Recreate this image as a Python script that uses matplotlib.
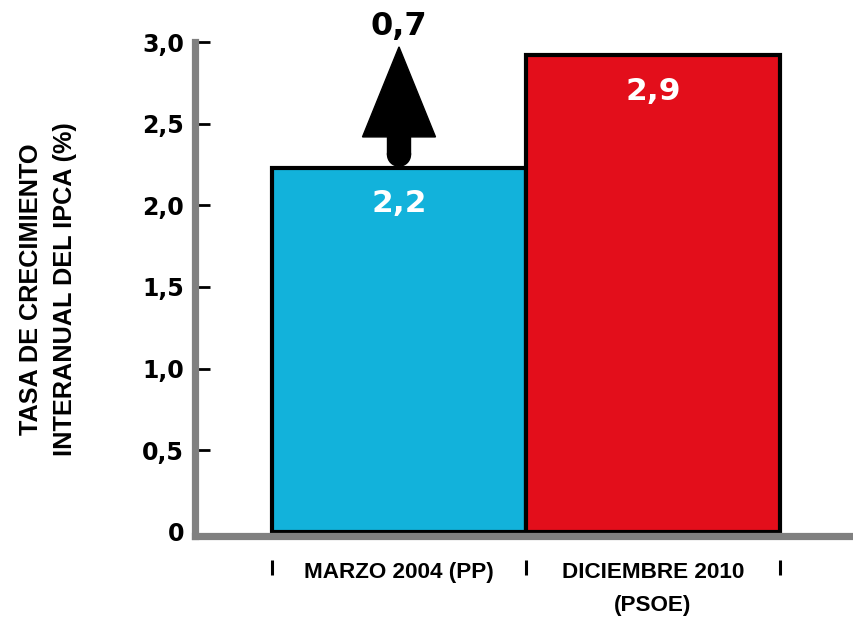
import matplotlib
matplotlib.use("Agg")
import matplotlib.pyplot as plt
from matplotlib.patches import FancyArrow, Ellipse

categories = ["MARZO 2004 (PP)", "DICIEMBRE 2010\n(PSOE)"]
values = [2.23, 2.92]
value_labels = ["2,2", "2,9"]
diff_label = "0,7"
colors = ["#12B2DB", "#E30E1B"]
yticks = [0, 0.5, 1.0, 1.5, 2.0, 2.5, 3.0]
ytick_labels = ["0", "0,5", "1,0", "1,5", "2,0", "2,5", "3,0"]
ylabel = "TASA DE CRECIMIENTO\nINTERANUAL DEL IPCA (%)"

W, H = 854, 617
fig = plt.figure(figsize=(W / 100, H / 100), dpi=100)
ax = fig.add_axes([195 / W, (H - 536) / H, 1 - 195 / W, (536 - 42) / H])

x = list(range(len(categories)))
ax.bar(x, values, width=1.0, color=colors, edgecolor="black", linewidth=3, zorder=2)

ax.set_xlim(-0.5 - 77 / 254, 1.5 + 74 / 254)
ax.set_ylim(-4 / 163.3, 3.0)

gray = "#808080"
for s in ["top", "right"]:
    ax.spines[s].set_visible(False)
for s in ["left", "bottom"]:
    ax.spines[s].set_color(gray)
    ax.spines[s].set_linewidth(5.2)
    ax.spines[s].set_zorder(3)

num_font = dict(family="DejaVu Sans", weight="bold")
lbl_font = ["Liberation Sans", "DejaVu Sans"]

ax.set_yticks(yticks)
ax.set_yticklabels(ytick_labels, fontsize=17, **num_font)
ax.tick_params(axis="y", direction="in", length=11, width=2, color="black", pad=8)
ax.yaxis.get_major_ticks()[0].tick1line.set_visible(False)

ax.set_xticks(x)
ax.set_xticklabels(categories, fontsize=16.2, family=lbl_font, weight="bold",
                   linespacing=1.7)
ax.tick_params(axis="x", length=0, pad=19)

# separator marks below the axis at category boundaries
trans = ax.get_xaxis_transform()
for b in [i - 0.5 for i in range(len(categories) + 1)]:
    ax.plot([b, b], [-0.049, -0.078], color="black", lw=2.2, transform=trans,
            clip_on=False, solid_capstyle="butt")

ax.set_ylabel(ylabel, fontsize=18.2, family=lbl_font, weight="bold",
              linespacing=1.5, labelpad=47)

# value labels inside bars
for xi, v, t in zip(x, values, value_labels):
    ax.annotate(t, xy=(xi, v), xytext=(0, -26), textcoords="offset points",
                ha="center", va="center", color="white", fontsize=22.5, zorder=4,
                **num_font)

# arrow showing the difference
r = 11.5 / 163.3
shaft_w = 23 / 254
base = values[0] + 0.01 + r
tip = values[1] + 0.05
arrow = FancyArrow(0, base, 0, tip - base, width=shaft_w, head_width=73 / 254,
                   head_length=90 / 163.3, length_includes_head=True,
                   color="black", zorder=4, clip_on=False)
ax.add_patch(arrow)
ax.add_patch(Ellipse((0, base), shaft_w, 2 * r, color="black", zorder=4))
ax.annotate(diff_label, xy=(0, tip), xytext=(0, 15),
            textcoords="offset points", ha="center", va="center", color="black",
            fontsize=23, annotation_clip=False, **num_font)

fig.savefig("out.png", dpi=100)
